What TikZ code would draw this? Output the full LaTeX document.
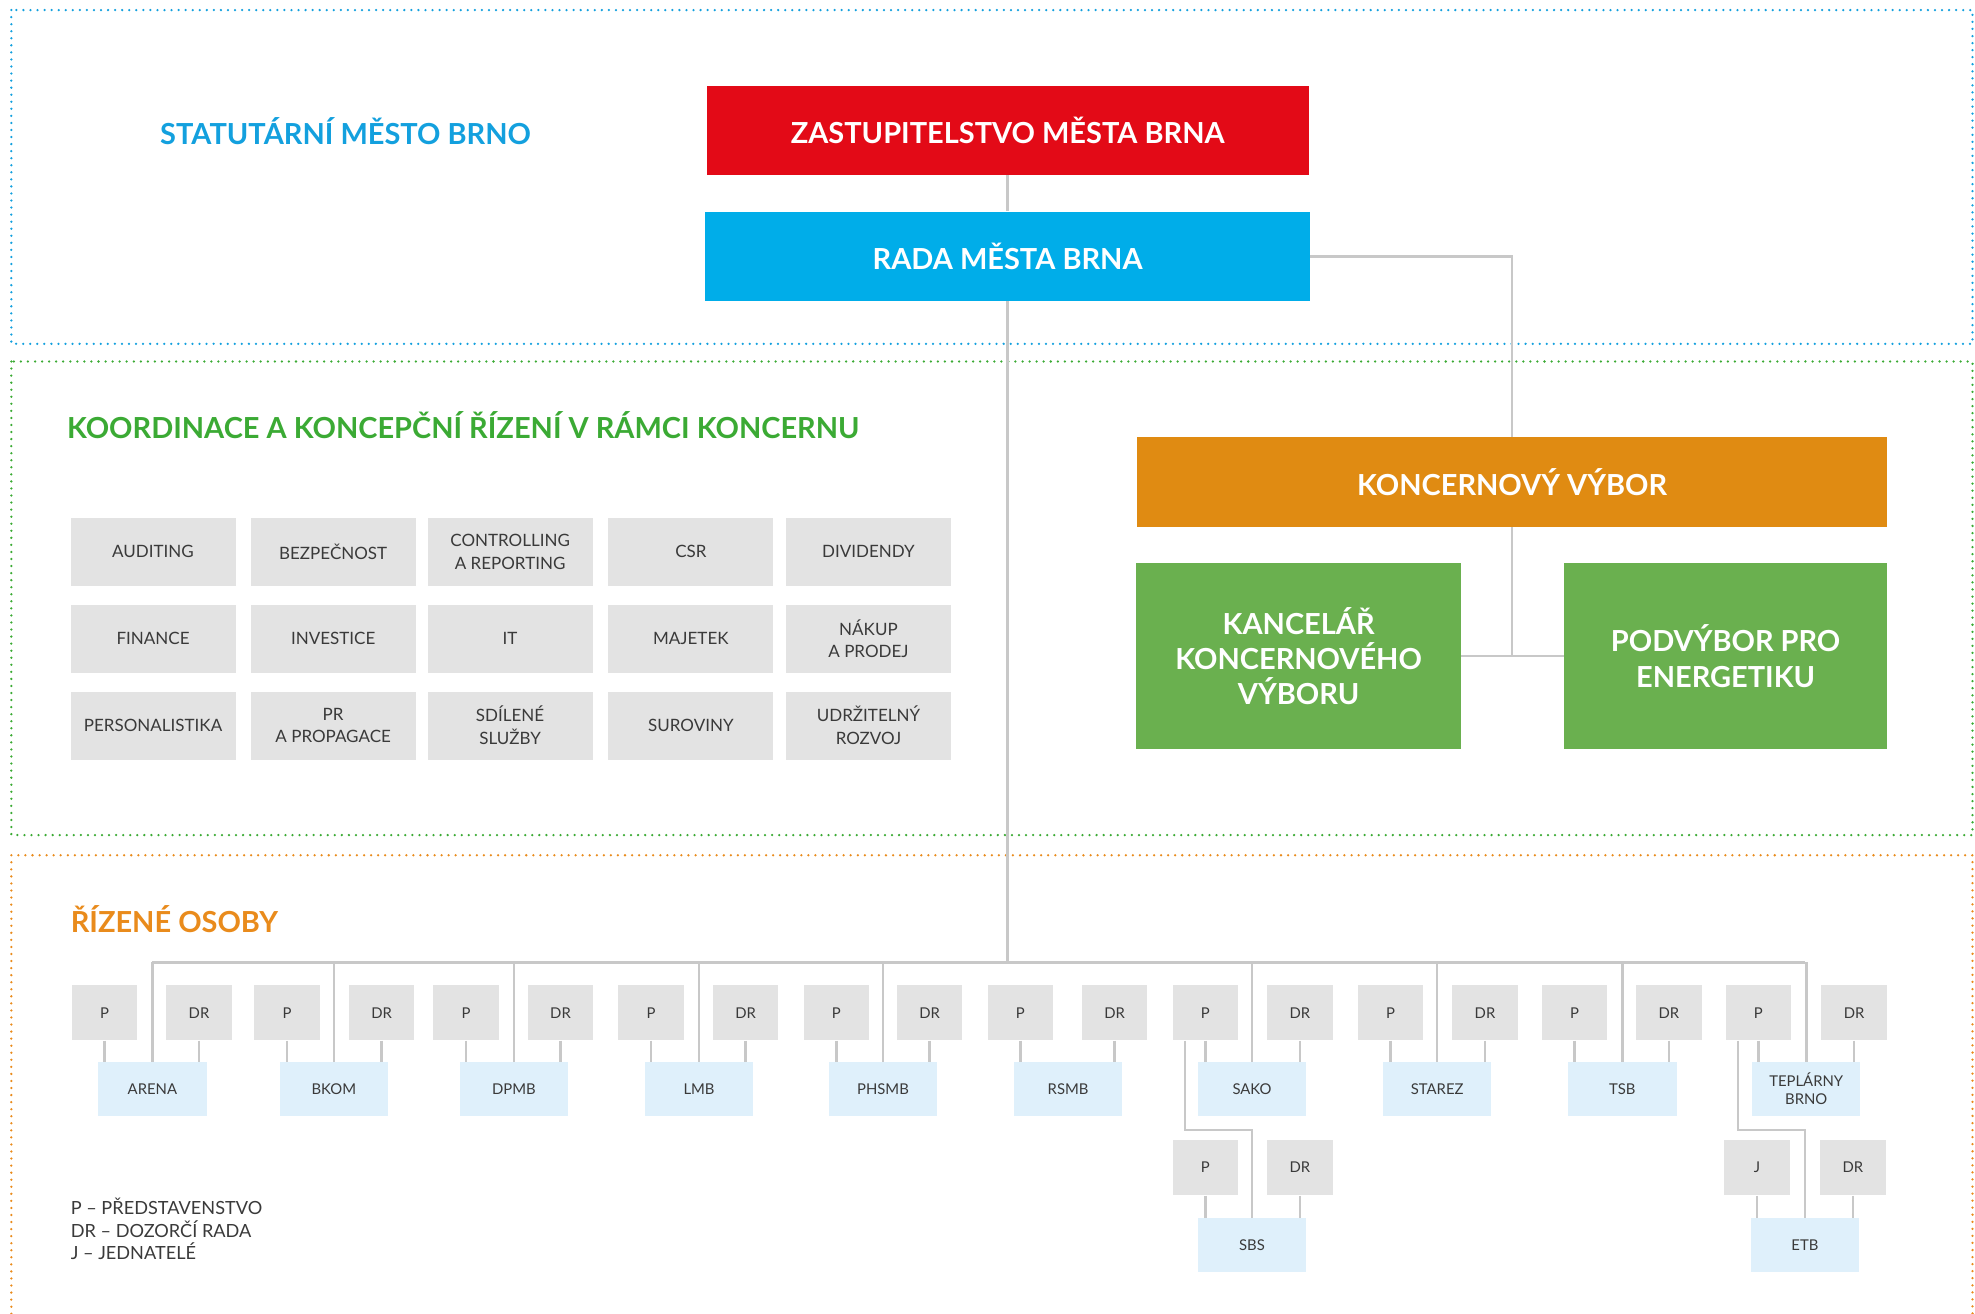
\documentclass[tikz,border=0pt]{standalone}
\usepackage{fontspec}
\setmainfont{Lato}
\definecolor{cred}{HTML}{E30A17}
\definecolor{cblue}{HTML}{00ADE9}
\definecolor{tblue}{HTML}{13A0DE}
\definecolor{corange}{HTML}{E08B12}
\definecolor{torange}{HTML}{E98B1C}
\definecolor{cgreen}{HTML}{6AB04F}
\definecolor{tgreen}{HTML}{3BAA34}
\definecolor{boxgray}{HTML}{E3E3E3}
\definecolor{lblue}{HTML}{DFF0FB}
\definecolor{lgray}{HTML}{C8C8C8}
\definecolor{txt}{HTML}{3A3A3A}
\tikzset{
  frame/.style={line width=2pt, dash pattern=on 0pt off 5.6pt, line cap=round},
  head/.style={font=\fontsize{23}{28}\selectfont\bfseries, text=white, align=center, inner sep=0},
  title/.style={font=\fontsize{23}{26}\selectfont\bfseries, anchor=west, inner sep=0},
  gbox/.style={fill=boxgray, minimum width=131pt, minimum height=54pt, inner sep=0, align=center, text=txt, font=\fontsize{13.5}{18}\selectfont},
  pbox/.style={fill=boxgray, minimum width=52pt, minimum height=44pt, inner sep=0, text=txt, font=\fontsize{11.8}{14}\selectfont},
  cbox/.style={fill=lblue, minimum width=86pt, minimum height=43pt, inner sep=0, align=center, text=txt, font=\fontsize{11.8}{14}\selectfont},
  conn/.style={draw=lgray, line width=2pt},
}
\begin{document}
\begin{tikzpicture}[x=1pt,y=-1pt]
\useasboundingbox (0,0) rectangle (1568,1043);
% frames
\draw[frame, draw=tblue] (9,8) rectangle (1566,273);
\draw[frame, draw=tgreen] (9,287) rectangle (1566,663);
\draw[frame, draw=torange] (9,1043) -- (9,679) -- (1566,679) -- (1566,1043);
% titles
\node[title, text=tblue] (t1) at (127,104.5) {STATUTÁRNÍ MĚSTO BRNO};
\node[title, text=tgreen] (t2) at (53,337.5) {KOORDINACE A KONCEPČNÍ ŘÍZENÍ V RÁMCI KONCERNU};
\node[title, text=torange] (t3) at (56,729.5) {ŘÍZENÉ OSOBY};
% head boxes
\node[head, fill=cred, minimum width=478pt, minimum height=71pt] (zast) at (800,103.5) {ZASTUPITELSTVO MĚSTA BRNA};
\node[head, fill=cblue, minimum width=480pt, minimum height=71pt] (rada) at (800,203.5) {RADA MĚSTA BRNA};
\node[head, fill=corange, minimum width=595pt, minimum height=71pt] (kv) at (1200.5,382.5) {KONCERNOVÝ VÝBOR};
\node[head, fill=cgreen, minimum width=258pt, minimum height=148pt] (kanc) at (1031,521) {KANCELÁŘ\\KONCERNOVÉHO\\VÝBORU};
\node[head, fill=cgreen, minimum width=256pt, minimum height=148pt] (podv) at (1370,521) {PODVÝBOR PRO\\ENERGETIKU};
% grid
\node[gbox] (g11) at (121.5,438) {AUDITING};
\node[gbox] (g12) at (264.5,438) {BEZPEČNOST};
\node[gbox] (g13) at (405,438) {CONTROLLING\\A REPORTING};
\node[gbox] (g14) at (548.5,438) {CSR};
\node[gbox] (g15) at (689.5,438) {DIVIDENDY};
\node[gbox] (g21) at (121.5,507) {FINANCE};
\node[gbox] (g22) at (264.5,507) {INVESTICE};
\node[gbox] (g23) at (405,507) {IT};
\node[gbox] (g24) at (548.5,507) {MAJETEK};
\node[gbox] (g25) at (689.5,507) {NÁKUP\\A PRODEJ};
\node[gbox] (g31) at (121.5,576) {PERSONALISTIKA};
\node[gbox] (g32) at (264.5,576) {PR\\A PROPAGACE};
\node[gbox] (g33) at (405,576) {SDÍLENÉ\\SLUŽBY};
\node[gbox] (g34) at (548.5,576) {SUROVINY};
\node[gbox] (g35) at (689.5,576) {UDRŽITELNÝ\\ROZVOJ};
% head connectors
\draw[conn] (zast.south) -- (rada.north);
\draw[conn] (rada.east) -| (kv.north);
\draw[conn] (kv.south) -- (kv.south |- kanc.east);
\draw[conn] (kanc.east) -- (podv.west);
% bus
\coordinate (busL) at (121,764);
\coordinate (busR) at (1433,764);
\draw[conn] (busL) -- (busR);
\draw[conn] (rada.south) -- (rada.south |- busL);
% companies
\foreach \n/\cx/\px/\dx/\lab in {arena/121/83/158/ARENA, bkom/265/228/303/BKOM, dpmb/408/370/445/DPMB, lmb/555/517/592/LMB, phsmb/701/664/738/PHSMB, rsmb/848/810/885/RSMB, sako/994/957/1032/SAKO, starez/1141/1104/1179/STAREZ, tsb/1288/1250/1325/TSB}{
  \node[pbox] (\n P) at (\px,804) {P};
  \node[pbox] (\n D) at (\dx,804) {DR};
  \node[cbox] (\n) at (\cx,864.5) {\lab};
  \draw[conn] (\n P.south) -- (\n P.south |- \n.north);
  \draw[conn] (\n D.south) -- (\n D.south |- \n.north);
}
\node[pbox] (teplP) at (1396,804) {P};
\node[pbox] (teplD) at (1472,804) {DR};
\node[cbox] (tepl) at (1434,864.5) {TEPLÁRNY\\BRNO};
\draw[conn] (teplP.south) -- (teplP.south |- tepl.north);
\draw[conn] (teplD.south) -- (teplD.south |- tepl.north);
% bus drops
\foreach \n in {arena,bkom,dpmb,lmb,phsmb,sako,starez,tsb,tepl}{
  \draw[conn] (\n.north) -- (\n.north |- busL);
}
% second level
\node[pbox] (sbsP) at (957,927) {P};
\node[pbox] (sbsD) at (1032,927) {DR};
\node[cbox] (sbs) at (994,988.5) {SBS};
\draw[conn] (sbsP.south) -- (sbsP.south |- sbs.north);
\draw[conn] (sbsD.south) -- (sbsD.south |- sbs.north);
\draw[conn] ([xshift=10pt]sakoP.south west) -- ++(0,71) -| (sbs.north);
\node[pbox] (etbJ) at (1395,927) {J};
\node[pbox] (etbD) at (1471,927) {DR};
\node[cbox] (etb) at (1433,988.5) {ETB};
\draw[conn] (etbJ.south) -- (etbJ.south |- etb.north);
\draw[conn] (etbD.south) -- (etbD.south |- etb.north);
\draw[conn] ([xshift=10pt]teplP.south west) -- ++(0,71) -| (etb.north);
% legend
\node[anchor=north west, inner sep=0, align=left, text=txt, font=\fontsize{14.4}{18}\selectfont] (leg) at (56,951) {P – PŘEDSTAVENSTVO\\DR – DOZORČÍ RADA\\J – JEDNATELÉ};
\end{tikzpicture}
\end{document}
